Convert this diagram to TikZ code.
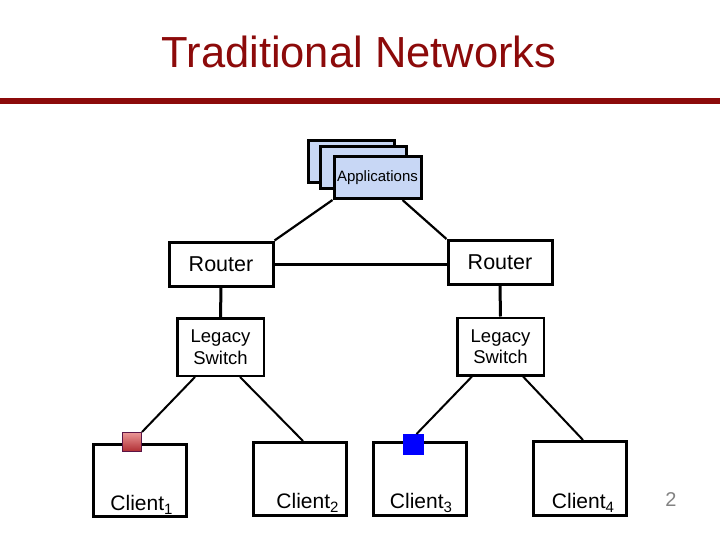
\documentclass[tikz,border=0pt]{standalone}
\usepackage{fontspec}
\setmainfont{Liberation Sans}
\usetikzlibrary{calc}
\definecolor{titlered}{RGB}{140,10,10}
\definecolor{appblue}{RGB}{200,215,245}
\definecolor{sqtop}{RGB}{235,150,150}
\definecolor{sqbot}{RGB}{175,45,50}
\definecolor{sqedge}{RGB}{90,20,70}
\definecolor{pagegray}{RGB}{130,130,130}
\newcommand{\clsub}[1]{\raisebox{-4pt}{\fontsize{15}{16}\selectfont #1}}
\begin{document}
\begin{tikzpicture}[x=1pt,y=-1pt,
  appbox/.style={draw, line width=3pt, fill=appblue, minimum width=86pt, minimum height=42pt, inner sep=0pt, font=\fontsize{15}{17}\selectfont},
  routerbox/.style={draw, line width=3pt, fill=white, minimum width=104pt, minimum height=44pt, inner sep=0pt, font=\fontsize{21.5}{25}\selectfont},
  switchbox/.style={draw, line width=2.5pt, fill=white, minimum width=86.5pt, minimum height=57.5pt, inner sep=0pt, align=center, font=\fontsize{18.5}{21.5}\selectfont},
  clientbox/.style={draw, line width=3pt, fill=white, minimum width=93pt, minimum height=72pt, inner sep=0pt},
  clientlbl/.style={anchor=base, inner sep=0pt, font=\fontsize{21}{25}\selectfont},
  conn/.style={line width=2.2pt},
  thickconn/.style={line width=3pt},
  thinconn/.style={line width=2pt}]
\useasboundingbox (0,0) rectangle (720,540);
% title
\node[text=titlered, anchor=base, inner sep=0pt, font=\fontsize{43.5}{50}\selectfont] (title) at (359,68) {Traditional Networks};
\fill[titlered] (0,98) rectangle (720,104);
% applications stack
\node[appbox] (app3) at (351,161.5) {};
\node[appbox] (app2) at (363.5,167.5) {};
\node[appbox, minimum width=87pt] (app1) at (377.5,177.5) {Applications};
% routers
\node[routerbox] (r1) at (221,264) {Router};
\node[routerbox] (r2) at (500,262.5) {Router};
% switches
\node[switchbox] (s1) at (220.5,347) {Legacy\\Switch};
\node[switchbox] (s2) at (500.5,346.5) {Legacy\\Switch};
% clients
\node[clientbox] (c1) at (140,480) {};
\node[clientbox, minimum height=73pt] (c2) at (300,479) {};
\node[clientbox, minimum height=73pt] (c3) at (420,479) {};
\node[clientbox, minimum height=74pt] (c4) at (580,478.5) {};
\node[clientlbl] (l1) at (141.5,510) {Client\clsub{1}};
\node[clientlbl] (l2) at (307.5,508) {Client\clsub{2}};
\node[clientlbl] (l3) at (421,508) {Client\clsub{3}};
\node[clientlbl] (l4) at (583,508) {Client\clsub{4}};
% connectors
\draw[conn] (app1.south west) -- (r1.north east);
\draw[conn] ($(app1.south east)+(-20,0)$) -- (r2.north west);
\draw[thickconn] (r1.east) -- (r1.east -| r2.west);
\draw[thickconn] (r1.south) -- (s1.north);
\draw[thickconn] (r2.south) -- (s2.north);
\coordinate (s1a) at ($(s1.south west)+(19,0)$);
\coordinate (s1b) at ($(s1.south east)+(-25,0)$);
\coordinate (s2a) at ($(s2.south west)+(16,0)$);
\coordinate (s2b) at ($(s2.south east)+(-22,0)$);
% ports
\node[draw=sqedge, line width=1pt, top color=sqtop, bottom color=sqbot, minimum size=19pt, inner sep=0pt] (sq1) at (132,442) {};
\node[draw=blue, fill=blue, line width=0.5pt, minimum width=20pt, minimum height=19.5pt, inner sep=0pt] (sq2) at (413.5,444) {};
\draw[thinconn] (s1a) -- (sq1.north east);
\draw[thinconn] (s1b) -- ($(c2.north)+(3,0)$);
\draw[thinconn] (s2a) -- ($(sq2.north)+(3,0)$);
\draw[thinconn] (s2b) -- ($(c4.north)+(3,0)$);
% page number
\node[text=pagegray, inner sep=0pt, font=\fontsize{20}{24}\selectfont] (pg) at (671,500) {2};
\end{tikzpicture}
\end{document}
